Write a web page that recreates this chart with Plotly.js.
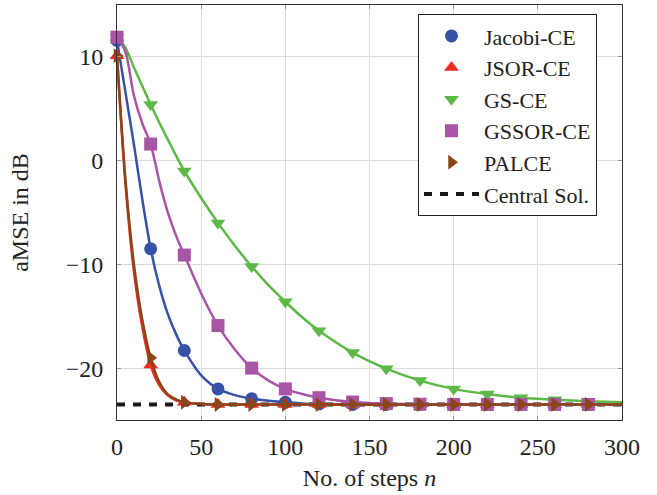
<!DOCTYPE html>
<html>
<head>
<meta charset="utf-8">
<script src="https://cdn.plot.ly/plotly-3.0.1.min.js"></script>
<style>html,body{margin:0;padding:0;background:#fff;}</style>
</head>
<body>
<div id="chart" style="width:657px;height:495px;"></div>
<script>
// Steps n at which curve values were read
var steps = [0,5,10,15,20,25,30,35,40,50,60,70,80,90,100,110,120,140,160,180,200,220,240,260,280,300];

var jacobiCE = [11.6,6.6,1.6,-3.7,-8.5,-12.0,-14.7,-16.7,-18.3,-20.7,-22.0,-22.6,-22.95,-23.15,-23.3,-23.4,-23.45,-23.5,-23.5,-23.5,-23.5,-23.5,-23.5,-23.5,-23.5,-23.5];
var jsorCE   = [10.1,-2.2,-10.6,-16.0,-19.7,-21.6,-22.6,-23.1,-23.3,-23.45,-23.5,-23.5,-23.5,-23.5,-23.5,-23.5,-23.5,-23.5,-23.5,-23.5,-23.5,-23.5,-23.5,-23.5,-23.5,-23.5];
var gsCE     = [11.9,10.9,9.0,7.2,5.4,3.7,2.1,0.5,-1.0,-3.6,-6.0,-8.2,-10.2,-12.0,-13.6,-15.1,-16.4,-18.5,-20.05,-21.2,-22.0,-22.5,-22.85,-23.05,-23.2,-23.3];
var gssorCE  = [11.9,10.5,6.3,3.6,1.6,-1.9,-4.9,-7.2,-9.1,-12.8,-15.9,-18.2,-20.0,-21.2,-22.0,-22.5,-22.85,-23.27,-23.42,-23.48,-23.5,-23.5,-23.5,-23.5,-23.5,-23.5];
var palce    = [10.1,-1.8,-9.9,-15.3,-19.0,-21.3,-22.5,-23.0,-23.3,-23.45,-23.5,-23.5,-23.5,-23.5,-23.5,-23.5,-23.5,-23.5,-23.5,-23.5,-23.5,-23.5,-23.5,-23.5,-23.5,-23.5];

var centralSteps = [0, 300];
var centralSol   = [-23.5, -23.5];

var seriesNames = ['Jacobi-CE','JSOR-CE','GS-CE','GSSOR-CE','PALCE'];
var xTicks = [0,50,100,150,200,250,300];
var yTicks = [-20,-10,0,10];

var seriesData = [jacobiCE, jsorCE, gsCE, gssorCE, palce];
var colors  = ['#3652a6','#ef2b24','#5cb947','#a955a6','#8b451a'];
var symbols = ['circle','triangle-up','triangle-down','square','triangle-right'];
var sizes   = [13,13,13,13,13];

var font = 'Liberation Serif';
var traces = [];

traces.push({
  x: centralSteps, y: centralSol, mode: 'lines', name: 'Central Sol.',
  line: {color: '#1a1a1a', width: 4, dash: '8px,8px'},
  legendrank: 6, hoverinfo: 'skip'
});

seriesData.forEach(function(vals, i) {
  traces.push({
    x: steps, y: vals, mode: 'lines', showlegend: false,
    line: {color: colors[i], width: 2.5, shape: 'spline', smoothing: 0.8},
    hoverinfo: 'skip'
  });
  var mx = [], my = [];
  steps.forEach(function(s, k) {
    if (s % 20 === 0 && s < 300) { mx.push(s); my.push(vals[k]); }
  });
  traces.push({
    x: mx, y: my, mode: 'markers', name: seriesNames[i],
    marker: {color: colors[i], symbol: symbols[i], size: sizes[i], line: {width: 0}},
    cliponaxis: false, legendrank: i + 1
  });
});

var axisCommon = {
  showgrid: true, gridcolor: '#dadada', gridwidth: 1,
  zeroline: false, showline: true, linecolor: '#333', linewidth: 1, mirror: 'ticks',
  ticks: 'inside', ticklen: 4, tickcolor: '#999',
  tickfont: {family: font, size: 24, color: '#222'}
};

var layout = {
  width: 657, height: 495,
  margin: {l: 117, r: 35, t: 5, b: 75},
  paper_bgcolor: '#fff', plot_bgcolor: '#fff',
  font: {family: font, color: '#222'},
  showlegend: true,
  xaxis: Object.assign({}, axisCommon, {
    range: [0, 300], tickvals: xTicks, ticklabelstandoff: 5,
    title: {text: 'No. of steps <i>n</i>', font: {family: font, size: 24, color: '#222'}, standoff: 10}
  }),
  yaxis: Object.assign({}, axisCommon, {
    range: [-25, 15], tickvals: yTicks, ticklabelstandoff: 8,
    title: {text: 'aMSE in dB', font: {family: font, size: 24, color: '#222'}, standoff: 30}
  }),
  legend: {
    x: 0.596, y: 0.978, xanchor: 'left', yanchor: 'top',
    bgcolor: '#fff', bordercolor: '#222', borderwidth: 1,
    font: {family: font, size: 22, color: '#222'},
    itemwidth: 55, traceorder: 'normal'
  }
};

Plotly.newPlot('chart', traces, layout, {displayModeBar: false, staticPlot: true});
</script>
</body>
</html>
